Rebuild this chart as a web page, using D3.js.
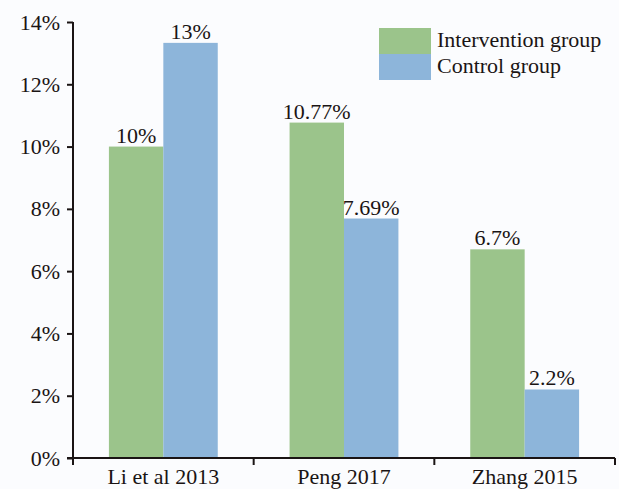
<!DOCTYPE html>
<html>
<head>
<meta charset="utf-8">
<script src="https://cdn.jsdelivr.net/npm/d3@7"></script>
<style>
  html, body { margin: 0; padding: 0; background: #fbfcfe; }
  svg text { font-family: "Liberation Serif", "Times New Roman", serif; fill: #1a1414; }
</style>
</head>
<body>
<div id="chart"></div>
<script>
// chart data
var studies = ["Li et al 2013", "Peng 2017", "Zhang 2015"];
var seriesNames = ["Intervention group", "Control group"];
var intervention = [10, 10.77, 6.7];
var control = [13.33, 7.69, 2.2];
var interventionLabels = ["10%", "10.77%", "6.7%"];
var controlLabels = ["13%", "7.69%", "2.2%"];
var yTicks = [0, 2, 4, 6, 8, 10, 12, 14];

var colors = ["#9bc48b", "#8db5da"];
var fontSize = "22px";

// canvas
var margin = {top: 22, right: 4, bottom: 31, left: 73},
    width = 619 - margin.left - margin.right,
    height = 489 - margin.top - margin.bottom;

var svg = d3.select("#chart")
  .append("svg")
  .attr("width", 619)
  .attr("height", 489);

var g = svg.append("g")
  .attr("transform", "translate(" + margin.left + "," + margin.top + ")");

// scales
var x0 = d3.scaleBand()
  .domain(studies)
  .range([0, 542]);

var x1 = d3.scaleBand()
  .domain(seriesNames)
  .range([0, x0.bandwidth()])
  .paddingOuter(0.66);

var y = d3.scaleLinear()
  .domain([0, 14])
  .range([436, 0]);

// put data in rows
var rows = studies.map(function(s, i) {
  return [
    {study: s, key: seriesNames[0], value: intervention[i], label: interventionLabels[i], color: colors[0]},
    {study: s, key: seriesNames[1], value: control[i], label: controlLabels[i], color: colors[1]}
  ];
});

var groups = g.selectAll(".study")
  .data(rows)
  .enter().append("g")
    .attr("class", "study")
    .attr("transform", function(d) { return "translate(" + x0(d[0].study) + ",0)"; });

groups.selectAll("rect")
  .data(function(d) { return d; })
  .enter().append("rect")
    .attr("x", function(d) { return x1(d.key); })
    .attr("width", x1.bandwidth())
    .attr("y", function(d) { return y(d.value); })
    .attr("height", function(d) { return 436 - y(d.value); })
    .style("fill", function(d) { return d.color; });

// value labels
groups.selectAll(".val")
  .data(function(d) { return d; })
  .enter().append("text")
    .attr("class", "val")
    .attr("x", function(d) { return x1(d.key) + x1.bandwidth() / 2; })
    .attr("y", function(d) { return y(d.value) - 4; })
    .attr("text-anchor", "middle")
    .style("font-size", fontSize)
    .text(function(d) { return d.label; });

// y axis
var yAxis = d3.axisLeft(y)
  .tickValues(yTicks)
  .tickSize(6)
  .tickPadding(7)
  .tickFormat(function(d) { return d + "%"; });

var yGuide = g.append("g").call(yAxis);
yGuide.select(".domain").remove();
yGuide.append("line")
  .attr("x1", 0).attr("x2", 0)
  .attr("y1", 0).attr("y2", 437)
  .style("stroke", "#1a1414")
  .style("stroke-width", 2);
yGuide.selectAll("line").style("stroke", "#1a1414").style("stroke-width", 2);
yGuide.selectAll("text")
  .style("font-size", fontSize)
  .style("font-family", "'Liberation Serif', serif")
  .style("fill", "#1a1414");

// x axis
var xGuide = g.append("g")
  .attr("transform", "translate(0,436)");
xGuide.append("line")
  .attr("x1", -6).attr("x2", 542)
  .attr("y1", 0).attr("y2", 0)
  .style("stroke", "#1a1414")
  .style("stroke-width", 2);

var boundaries = studies.map(function(s) { return x0(s); }).concat([x0.range()[1]]);
xGuide.selectAll(".xtick")
  .data(boundaries)
  .enter().append("line")
    .attr("class", "xtick")
    .attr("x1", function(d) { return d; })
    .attr("x2", function(d) { return d; })
    .attr("y1", 0)
    .attr("y2", 7)
    .style("stroke", "#1a1414")
    .style("stroke-width", 2);

xGuide.selectAll(".xlabel")
  .data(studies)
  .enter().append("text")
    .attr("class", "xlabel")
    .attr("x", function(d) { return x0(d) + x0.bandwidth() / 2; })
    .attr("y", 26)
    .attr("text-anchor", "middle")
    .style("font-size", fontSize)
    .text(function(d) { return d; });

// legend
var legend = svg.append("g")
  .attr("transform", "translate(379,28)");

legend.selectAll("rect")
  .data(seriesNames)
  .enter().append("rect")
    .attr("x", 0)
    .attr("y", function(d, i) { return i * 26; })
    .attr("width", 52)
    .attr("height", 26)
    .style("fill", function(d, i) { return colors[i]; });

legend.selectAll("text")
  .data(seriesNames)
  .enter().append("text")
    .attr("x", 58)
    .attr("y", function(d, i) { return 19 + i * 26; })
    .style("font-size", fontSize)
    .text(function(d) { return d; });
</script>
</body>
</html>
